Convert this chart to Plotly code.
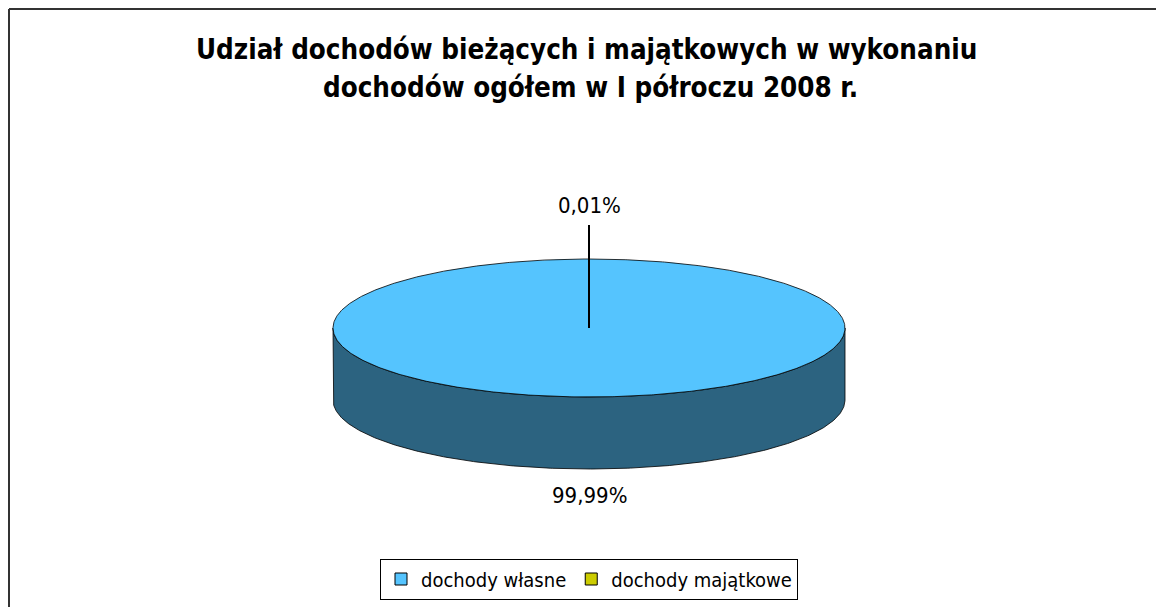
import numpy as np
import plotly.graph_objects as go

# ---- data ----
categories = ["dochody własne", "dochody majątkowe"]
values = [99.99, 0.01]
value_labels = ["99,99%", "0,01%"]
colors_top = ["#55C4FE", "#CCCC00"]
colors_side = ["#2C6380", "#7A7A00"]
title_lines = ["Udział dochodów bieżących i majątkowych w wykonaniu",
               "dochodów ogółem w I półroczu 2008 r."]

# ---- geometry (pixel units) ----
W, H = 1156, 607
CX, CY = 589, 328
RX, RY = 256, 69
DEPTH = 72
FONT = "DejaVu Sans Condensed"

fig = go.Figure()

fr = np.array(values) / np.sum(values)
cum = np.concatenate([[0], np.cumsum(fr)])


def pt(theta, dy=0.0):
    # theta: clockwise from 12 o'clock in radians
    return CX + RX * np.sin(theta), CY - RY * np.cos(theta) + dy


# side walls (front half: theta in [pi/2, 3pi/2])
for i in range(len(values)):
    a0, a1 = cum[i] * 2 * np.pi, cum[i + 1] * 2 * np.pi
    s0, s1 = max(a0, np.pi / 2), min(a1, 3 * np.pi / 2)
    if s1 <= s0:
        continue
    t = np.linspace(s0, s1, 300)
    xt, yt = pt(t)
    xb, yb = pt(t[::-1], DEPTH)
    fig.add_trace(go.Scatter(
        x=np.concatenate([xt, xb, xt[:1]]), y=np.concatenate([yt, yb, yt[:1]]),
        mode="lines", fill="toself", fillcolor=colors_side[i],
        line=dict(color="#000000", width=0.8), hoverinfo="skip", showlegend=False))

# top faces
for i in range(len(values)):
    a0, a1 = cum[i] * 2 * np.pi, cum[i + 1] * 2 * np.pi
    t = np.linspace(a0, a1, 600)
    xt, yt = pt(t)
    xs = np.concatenate([[CX], xt, [CX]])
    ys = np.concatenate([[CY], yt, [CY]])
    lw = 0 if fr[i] > 0.999 else 0.8
    fig.add_trace(go.Scatter(
        x=xs, y=ys, mode="lines", fill="toself", fillcolor=colors_top[i],
        line=dict(color="#000000", width=lw), hoverinfo="skip", showlegend=False))

# outline of top ellipse
t = np.linspace(0, 2 * np.pi, 800)
xe, ye = pt(t)
fig.add_trace(go.Scatter(x=xe, y=ye, mode="lines", line=dict(color="#000000", width=0.8),
                         hoverinfo="skip", showlegend=False))

# labels
for i in range(len(values)):
    mid = (cum[i] + cum[i + 1]) * np.pi
    if fr[i] > 0.5:
        lx, ly = pt(mid, DEPTH)
        fig.add_annotation(x=lx, y=ly + 26, text=value_labels[i], showarrow=False,
                           font=dict(family=FONT, size=22, color="#000"))
    else:
        fig.add_trace(go.Scatter(x=[CX, CX], y=[CY, 225], mode="lines",
                                 line=dict(color="#000", width=2),
                                 hoverinfo="skip", showlegend=False))
        fig.add_annotation(x=CX, y=205, text=value_labels[i], showarrow=False,
                           font=dict(family=FONT, size=22, color="#000"))

# legend entries
for i, c in enumerate(categories):
    fig.add_trace(go.Scatter(x=[None], y=[None], mode="markers", name=c,
                             marker=dict(symbol="square", size=12, color=colors_top[i],
                                         line=dict(color="#000", width=1))))

# title
for k, line in enumerate(title_lines):
    fig.add_annotation(x=[586, 590][k], y=[49, 87][k], text="<b>%s</b>" % line,
                       showarrow=False, font=dict(family=FONT, size=27.5, color="#000"))

fig.update_layout(
    width=W, height=H, margin=dict(l=0, r=0, t=0, b=0),
    paper_bgcolor="white", plot_bgcolor="white",
    xaxis=dict(range=[0, W], visible=False, fixedrange=True),
    yaxis=dict(range=[H, 0], visible=False, fixedrange=True),
    showlegend=True,
    legend=dict(orientation="h", x=589 / W, xanchor="center", y=1 - 579 / H, yanchor="middle",
                bordercolor="#000", borderwidth=1, bgcolor="white",
                font=dict(family=FONT, size=20, color="#000"),
                itemwidth=30, tracegroupgap=0),
    shapes=[
        dict(type="line", xref="x", yref="y", x0=9, y0=9, x1=W, y1=9,
             line=dict(color="#333333", width=2)),
        dict(type="line", xref="x", yref="y", x0=9, y0=9, x1=9, y1=H,
             line=dict(color="#333333", width=2)),
    ],
)

fig.write_html("out.html", config={"displayModeBar": False},
               post_script="document.body.style.margin='0';document.body.style.overflow='hidden';")
